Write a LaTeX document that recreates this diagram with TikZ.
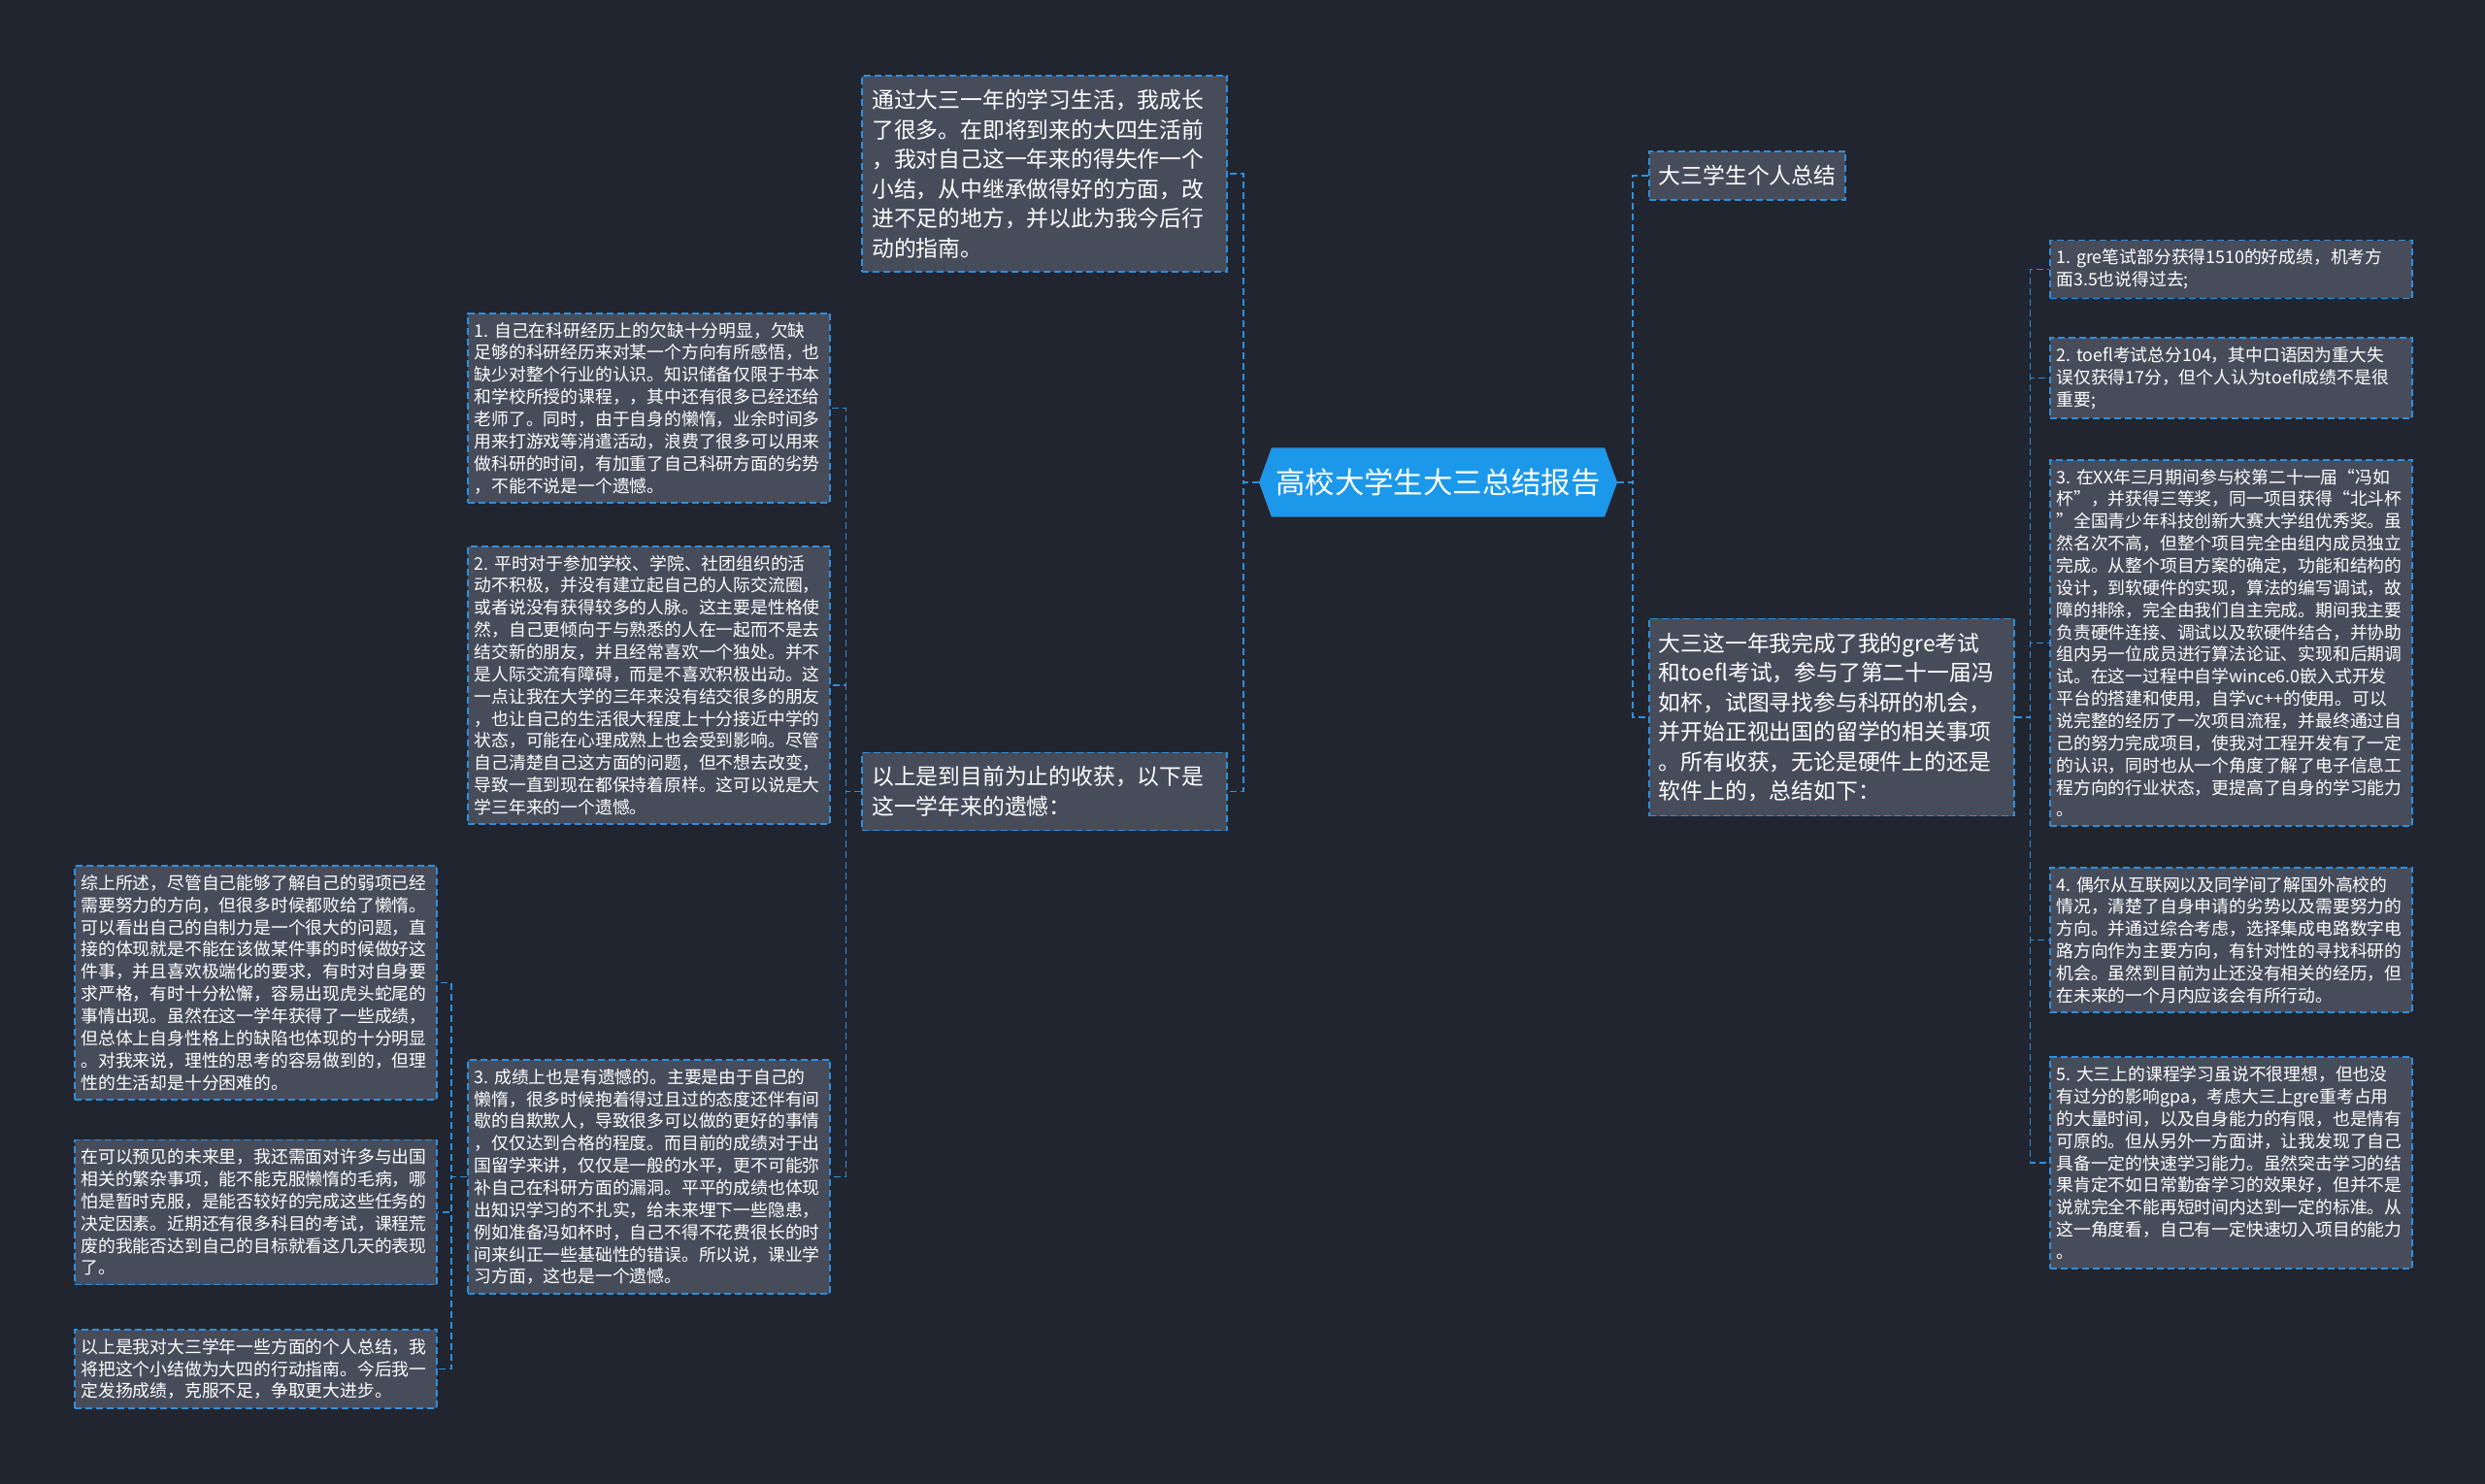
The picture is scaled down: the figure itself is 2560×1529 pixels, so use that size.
\documentclass[tikz,border=0pt]{standalone}
\usepackage{fontspec}
\setmainfont{Noto Sans CJK SC}
\usepackage{tikz}
\usetikzlibrary{shapes.symbols}
\definecolor{bgcol}{HTML}{21252F}
\definecolor{boxcol}{HTML}{474C5B}
\definecolor{linecol}{HTML}{2E8FDD}
\definecolor{topiccol}{HTML}{1C98EA}
\setlength{\parindent}{0pt}

\begin{document}
\begin{tikzpicture}[x=0.5pt,y=-0.5pt,
  topic/.style={signal,signal to=west and east,signal pointer angle=140,
    fill=topiccol,draw=linecol,line width=0.6pt,text=white,
    font=\fontsize{15.2}{18}\selectfont,minimum height=35pt,inner xsep=2pt},
  bigbox/.style={draw=linecol,fill=boxcol,line width=0.8pt,dash pattern=on 3.5pt off 2pt,
    text=white,font=\fontsize{11.4}{15.25}\selectfont,inner xsep=5pt,inner ysep=7.2pt,align=left},
  bigpara/.style={bigbox,text width=178pt},
  smallbox/.style={draw=linecol,fill=boxcol,line width=0.8pt,dash pattern=on 3.5pt off 2pt,
    text=white,font=\fontsize{8.9}{11.43}\selectfont,inner xsep=3.3pt,inner ysep=4.6pt,
    text width=180pt,align=left},
  link/.style={draw=linecol,line width=0.8pt,dash pattern=on 3.5pt off 2pt}]
  \fill[bgcol] (0,0) rectangle (2560,1529);

  \node[topic] (cen) at (1481.5,497) {高校大学生大三总结报告};

  \node[bigbox,anchor=west] (r1) at (1698,181) {大三学生个人总结};
  \node[bigpara,anchor=west] (r2) at (1698,739) {大三这一年我完成了我的gre考试\\和toefl考试，参与了第二十一届冯\\如杯，试图寻找参与科研的机会，\\并开始正视出国的留学的相关事项\\。所有收获，无论是硬件上的还是\\软件上的，总结如下：};

  \node[smallbox,anchor=west] (c1) at (2111,277.5) {1.~gre笔试部分获得1510的好成绩，机考方\\面3.5也说得过去;};
  \node[smallbox,anchor=west] (c2) at (2111,389.5) {2.~toefl考试总分104，其中口语因为重大失\\误仅获得17分，但个人认为toefl成绩不是很\\重要;};
  \node[smallbox,anchor=west] (c3) at (2111,662.5) {3.~在XX年三月期间参与校第二十一届“冯如\\杯”，并获得三等奖，同一项目获得“北斗杯\\”全国青少年科技创新大赛大学组优秀奖。虽\\然名次不高，但整个项目完全由组内成员独立\\完成。从整个项目方案的确定，功能和结构的\\设计，到软硬件的实现，算法的编写调试，故\\障的排除，完全由我们自主完成。期间我主要\\负责硬件连接、调试以及软硬件结合，并协助\\组内另一位成员进行算法论证、实现和后期调\\试。在这一过程中自学wince6.0嵌入式开发\\平台的搭建和使用，自学vc++的使用。可以\\说完整的经历了一次项目流程，并最终通过自\\己的努力完成项目，使我对工程开发有了一定\\的认识，同时也从一个角度了解了电子信息工\\程方向的行业状态，更提高了自身的学习能力\\。};
  \node[smallbox,anchor=west] (c4) at (2111,968.5) {4.~偶尔从互联网以及同学间了解国外高校的\\情况，清楚了自身申请的劣势以及需要努力的\\方向。并通过综合考虑，选择集成电路数字电\\路方向作为主要方向，有针对性的寻找科研的\\机会。虽然到目前为止还没有相关的经历，但\\在未来的一个月内应该会有所行动。};
  \node[smallbox,anchor=west] (c5) at (2111,1198) {5.~大三上的课程学习虽说不很理想，但也没\\有过分的影响gpa，考虑大三上gre重考占用\\的大量时间，以及自身能力的有限，也是情有\\可原的。但从另外一方面讲，让我发现了自己\\具备一定的快速学习能力。虽然突击学习的结\\果肯定不如日常勤奋学习的效果好，但并不是\\说就完全不能再短时间内达到一定的标准。从\\这一角度看，自己有一定快速切入项目的能力\\。};

  \node[bigpara,anchor=east] (l1) at (1265,179) {通过大三一年的学习生活，我成长\\了很多。在即将到来的大四生活前\\，我对自己这一年来的得失作一个\\小结，从中继承做得好的方面，改\\进不足的地方，并以此为我今后行\\动的指南。};
  \node[bigpara,anchor=east] (l2) at (1265,815.5) {以上是到目前为止的收获，以下是\\这一学年来的遗憾：};

  \node[smallbox,anchor=east] (ll1) at (856,420.5) {1.~自己在科研经历上的欠缺十分明显，欠缺\\足够的科研经历来对某一个方向有所感悟，也\\缺少对整个行业的认识。知识储备仅限于书本\\和学校所授的课程，，其中还有很多已经还给\\老师了。同时，由于自身的懒惰，业余时间多\\用来打游戏等消遣活动，浪费了很多可以用来\\做科研的时间，有加重了自己科研方面的劣势\\，不能不说是一个遗憾。};
  \node[smallbox,anchor=east] (ll2) at (856,706) {2.~平时对于参加学校、学院、社团组织的活\\动不积极，并没有建立起自己的人际交流圈，\\或者说没有获得较多的人脉。这主要是性格使\\然，自己更倾向于与熟悉的人在一起而不是去\\结交新的朋友，并且经常喜欢一个独处。并不\\是人际交流有障碍，而是不喜欢积极出动。这\\一点让我在大学的三年来没有结交很多的朋友\\，也让自己的生活很大程度上十分接近中学的\\状态，可能在心理成熟上也会受到影响。尽管\\自己清楚自己这方面的问题，但不想去改变，\\导致一直到现在都保持着原样。这可以说是大\\学三年来的一个遗憾。};
  \node[smallbox,anchor=east] (ll3) at (856,1212.5) {3.~成绩上也是有遗憾的。主要是由于自己的\\懒惰，很多时候抱着得过且过的态度还伴有间\\歇的自欺欺人，导致很多可以做的更好的事情\\，仅仅达到合格的程度。而目前的成绩对于出\\国留学来讲，仅仅是一般的水平，更不可能弥\\补自己在科研方面的漏洞。平平的成绩也体现\\出知识学习的不扎实，给未来埋下一些隐患，\\例如准备冯如杯时，自己不得不花费很长的时\\间来纠正一些基础性的错误。所以说，课业学\\习方面，这也是一个遗憾。};

  \node[smallbox,anchor=east] (lll1) at (451,1012.5) {综上所述，尽管自己能够了解自己的弱项已经\\需要努力的方向，但很多时候都败给了懒惰。\\可以看出自己的自制力是一个很大的问题，直\\接的体现就是不能在该做某件事的时候做好这\\件事，并且喜欢极端化的要求，有时对自身要\\求严格，有时十分松懈，容易出现虎头蛇尾的\\事情出现。虽然在这一学年获得了一些成绩，\\但总体上自身性格上的缺陷也体现的十分明显\\。对我来说，理性的思考的容易做到的，但理\\性的生活却是十分困难的。};
  \node[smallbox,anchor=east] (lll2) at (451,1249) {在可以预见的未来里，我还需面对许多与出国\\相关的繁杂事项，能不能克服懒惰的毛病，哪\\怕是暂时克服，是能否较好的完成这些任务的\\决定因素。近期还有很多科目的考试，课程荒\\废的我能否达到自己的目标就看这几天的表现\\了。};
  \node[smallbox,anchor=east] (lll3) at (451,1410.5) {以上是我对大三学年一些方面的个人总结，我\\将把这个小结做为大四的行动指南。今后我一\\定发扬成绩，克服不足，争取更大进步。};

  \draw[link] (cen.east) -- ++(16,0) |- (r1.west);
  \draw[link] (cen.east) -- ++(16,0) |- (r2.west);
  \draw[link] (cen.west) -- ++(-16,0) |- (l1.east);
  \draw[link] (cen.west) -- ++(-16,0) |- (l2.east);

  \draw[link] (r2.east) -- ++(16,0) |- (c1.west);
  \draw[link] (r2.east) -- ++(16,0) |- (c2.west);
  \draw[link] (r2.east) -- ++(16,0) |- (c3.west);
  \draw[link] (r2.east) -- ++(16,0) |- (c4.west);
  \draw[link] (r2.east) -- ++(16,0) |- (c5.west);

  \draw[link] (l2.west) -- ++(-16,0) |- (ll1.east);
  \draw[link] (l2.west) -- ++(-16,0) |- (ll2.east);
  \draw[link] (l2.west) -- ++(-16,0) |- (ll3.east);

  \draw[link] (ll3.west) -- ++(-16,0) |- (lll1.east);
  \draw[link] (ll3.west) -- ++(-16,0) |- (lll2.east);
  \draw[link] (ll3.west) -- ++(-16,0) |- (lll3.east);
\end{tikzpicture}
\end{document}
